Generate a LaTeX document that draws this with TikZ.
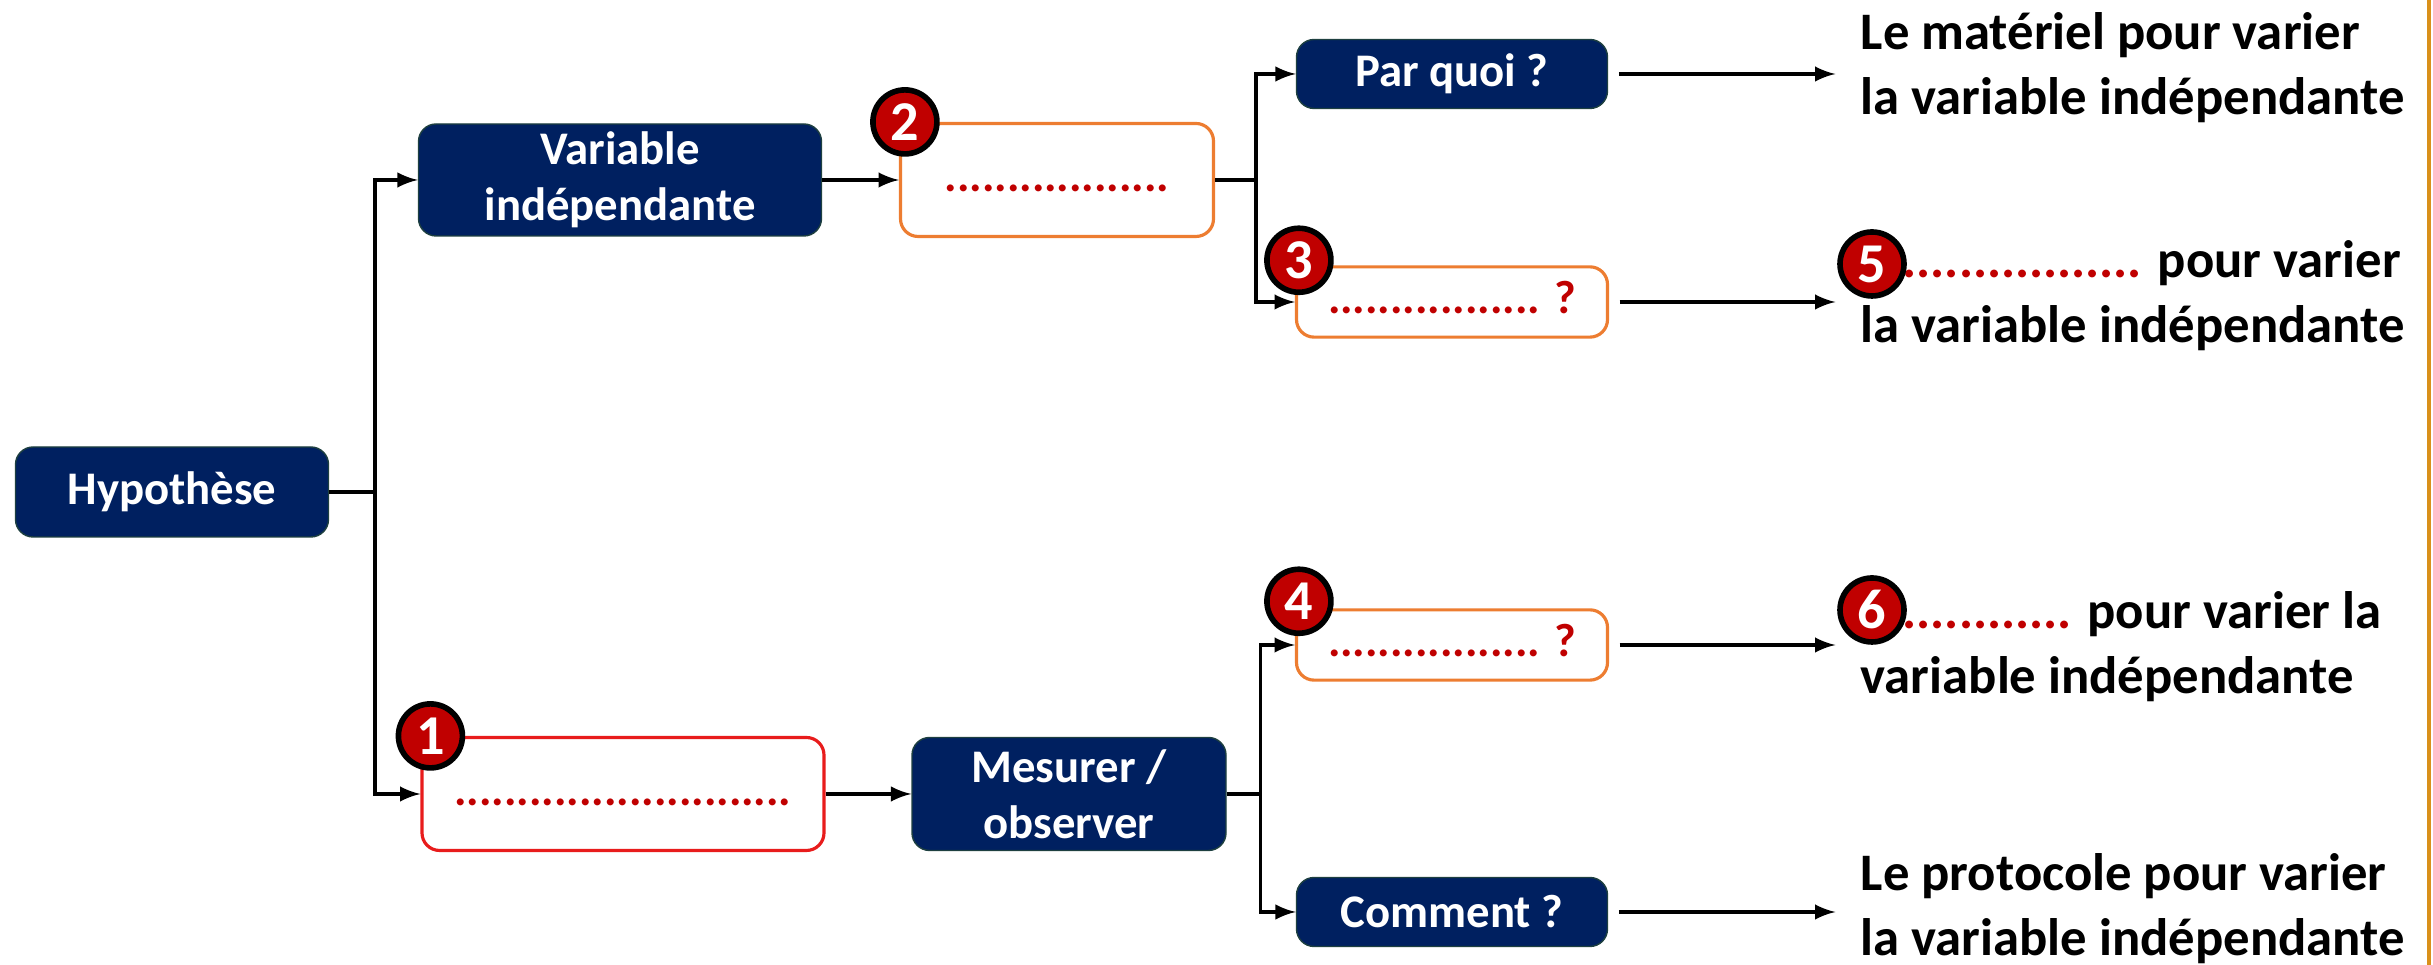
\documentclass[tikz,border=0pt]{standalone}
\usepackage{fontspec}
\setmainfont{Carlito}
\usetikzlibrary{positioning,arrows}
\definecolor{navy}{HTML}{002060}
\definecolor{navyline}{HTML}{1E4040}
\definecolor{blankorange}{HTML}{ED7D31}
\definecolor{blankred}{HTML}{E81C1C}
\definecolor{dotred}{HTML}{C00000}
\definecolor{edgegold}{HTML}{D9901A}
\newcommand{\blank}[1]{\textcolor{dotred}{#1}}

\begin{document}
\begin{tikzpicture}[every node/.style={},
  bloc/.style={draw=navyline,fill=navy,text=white,rounded corners=5pt,align=center,inner sep=2pt,font=\bfseries\fontsize{13.3}{16}\selectfont},
  vide/.style={draw=blankorange,line width=0.9pt,fill=white,rounded corners=5pt,align=center,inner sep=2pt,font=\bfseries\fontsize{13.3}{16}\selectfont},
  numero/.style={circle,draw=black,line width=1.6pt,fill=dotred,text=white,minimum size=0.64cm,inner sep=0pt,font=\bfseries\fontsize{16}{16}\selectfont},
  texte/.style={anchor=west,align=left,inner sep=0pt,font=\bfseries\fontsize{15}{18.5}\selectfont},
  lien/.style={line width=1pt},
  fleche/.style={->,>=latex,line width=1pt}]
\useasboundingbox (0,0) rectangle (24.33,9.65);

\node[bloc,minimum width=3.13cm,minimum height=0.9cm] (hyp) at (1.72,4.73) {Hypothèse};
\node[bloc,minimum width=4.03cm,minimum height=1.12cm] (vi) at (6.20,7.85) {Variable\\indépendante};
\node[vide,minimum width=3.13cm,minimum height=1.13cm] (v2) at (10.57,7.85) {\strut\blank{..................}};
\node[bloc,minimum width=3.11cm,minimum height=0.69cm] (pq) at (14.52,8.91) {Par quoi ?};
\node[vide,minimum width=3.11cm,minimum height=0.70cm] (v3) at (14.52,6.63) {\strut\blank{................. ?}};
\node[vide,draw=blankred,minimum width=4.02cm,minimum height=1.13cm] (v1) at (6.23,1.71) {\strut\blank{...........................}};
\node[bloc,minimum width=3.14cm,minimum height=1.13cm] (mo) at (10.69,1.71) {Mesurer /\\observer};
\node[vide,minimum width=3.11cm,minimum height=0.70cm] (v4) at (14.52,3.20) {\strut\blank{................. ?}};
\node[bloc,minimum width=3.11cm,minimum height=0.69cm] (cm) at (14.52,0.53) {Comment ?};

\node[texte] (t1) at (18.60,8.97) {Le matériel pour varier\\la variable indépendante};
\node[texte] (t5) at (18.60,6.69) {\hspace{0.42cm}\blank{.................} pour varier\\la variable indépendante};
\node[texte] (t6) at (18.60,3.18) {\hspace{0.42cm}\blank{............} pour varier la\\variable indépendante};
\node[texte] (t7) at (18.60,0.56) {Le protocole pour varier\\la variable indépendante};

\node[numero] (n1) at ([xshift=0.1cm]v1.north west) {1};
\node[numero] (n2) at ([xshift=0.06cm]v2.north west) {2};
\node[numero] (n3) at ([xshift=0.04cm,yshift=0.05cm]v3.north west) {3};
\node[numero] (n4) at ([xshift=0.04cm,yshift=0.07cm]v4.north west) {4};
\node[numero] (n5) at (18.72,7.01) {5};
\node[numero] (n6) at (18.72,3.55) {6};

\coordinate[right=0.46cm of hyp] (j1);
\draw[lien] (hyp) -- (j1);
\draw[fleche] (j1) |- (vi);
\draw[fleche] (j1) |- (v1);
\draw[fleche] (vi) -- (v2);

\coordinate[right=0.41cm of v2] (j2);
\draw[lien] (v2) -- (j2);
\draw[fleche] (j2) |- (pq);
\draw[fleche] (j2) |- (v3);

\draw[fleche] (v1) -- (mo);
\coordinate[right=0.34cm of mo] (j3);
\draw[lien] (mo) -- (j3);
\draw[fleche] (j3) |- (v4);
\draw[fleche] (j3) |- (cm);

\draw[fleche,shorten <=3pt,shorten >=7pt] (pq.east) -- (pq.east -| t1.west);
\draw[fleche,shorten <=3pt,shorten >=7pt] (v3.east) -- (v3.east -| t5.west);
\draw[fleche,shorten <=3pt,shorten >=7pt] (v4.east) -- (v4.east -| t6.west);
\draw[fleche,shorten <=3pt,shorten >=7pt] (cm.east) -- (cm.east -| t7.west);

\draw[edgegold,line width=1.2pt] (24.29,0) -- (24.29,9.65);
\end{tikzpicture}
\end{document}
